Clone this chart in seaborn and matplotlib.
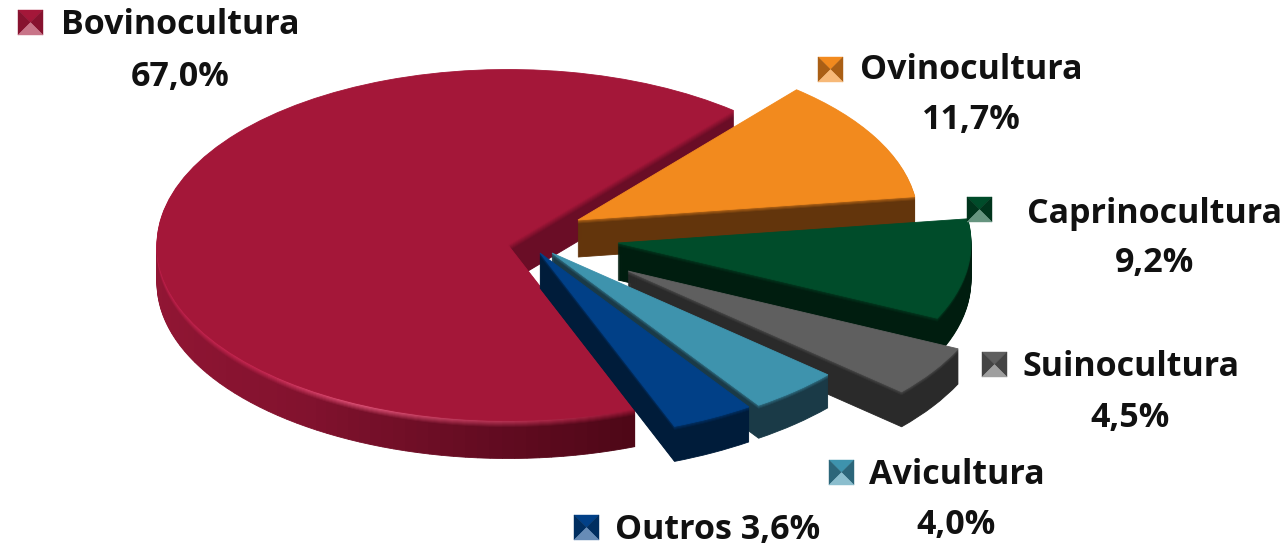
import matplotlib
matplotlib.use("Agg")
import matplotlib.pyplot as plt
from matplotlib.patches import Polygon
import seaborn as sns
import numpy as np

# ---- data ----
categories = ["Bovinocultura", "Outros", "Avicultura", "Suinocultura", "Caprinocultura", "Ovinocultura"]
shares = [67.0, 3.6, 4.0, 4.5, 9.2, 11.7]
share_labels = ["67,0%", "3,6%", "4,0%", "4,5%", "9,2%", "11,7%"]

# ---- styling / layout (pixel space of the 1287x552 canvas) ----
W, H, YS = 1287, 552, 2.0
START = 50.0
top_col = dict(Bovinocultura="#A41739", Outros="#014087", Avicultura="#3E93AD",
               Suinocultura="#5F5F5F", Caprinocultura="#004C2A", Ovinocultura="#F28A1E")
side_col = dict(Bovinocultura="#6A0D26", Outros="#001C3A", Avicultura="#1A3A47",
                Suinocultura="#2A2A2A", Caprinocultura="#001D0F", Ovinocultura="#63350C")
geom = dict(Bovinocultura=((508, 245), 351, 38), Ovinocultura=((578, 220), 340, 37),
            Caprinocultura=((618, 243), 353, 37), Suinocultura=((628, 271), 365, 35),
            Avicultura=((552, 253), 368, 33), Outros=((540, 253), 372, 35))
draw_order = ["Bovinocultura", "Ovinocultura", "Caprinocultura", "Suinocultura", "Avicultura", "Outros"]

sns.set_theme(style="white")
plt.rcParams["font.family"] = ["Open Sans", "DejaVu Sans"]

fig = plt.figure(figsize=(W / 100, H / 100), dpi=100, facecolor="white")
ax = fig.add_axes([0, 0, 1, 1])


def to_rgb(c):
    return np.array(matplotlib.colors.to_rgb(c))


def interp(theta, stops):
    xs = [s[0] for s in stops]
    arr = np.array([to_rgb(s[1]) for s in stops])
    return np.array([np.interp(theta, xs, arr[:, k]) for k in range(3)])


# Bovine wall shading around the rim
wall_stops = [(50, "#6A0D26"), (150, "#6A0D26"), (165, "#951736"), (200, "#8F1533"),
              (235, "#82122E"), (265, "#650C22"), (291, "#4E0717")]
rim_stops = [(50, "#A41739"), (150, "#A41739"), (175, "#C01D4A"), (225, "#CC2A55"),
             (245, "#E8587E"), (265, "#C43C5E"), (291, "#A41739")]


def pie_slice(idx, center, radius, colors, y_shift):
    """One slice of the shares, cut in len(colors) sectors, through ax.pie."""
    v = shares[idx]
    n = len(colors)
    pieces = [v / n] * n + [100 - v]
    start = START + 3.6 * sum(shares[:idx])
    wedges, _ = ax.pie(pieces, colors=list(colors) + ["white"], startangle=start,
                       center=(center[0], (H - center[1] - y_shift) * YS),
                       radius=radius, normalize=True)
    wedges[-1].remove()
    for w in wedges[:-1]:
        w.set_edgecolor(w.get_facecolor())
        w.set_linewidth(0.6)


for name in draw_order:
    idx = categories.index(name)
    center, radius, depth = geom[name]
    v = shares[idx]
    start = START + 3.6 * sum(shares[:idx])
    top, side = to_rgb(top_col[name]), to_rgb(side_col[name])
    for d in range(depth, 0, -1):
        if name == "Bovinocultura":
            n = 120
            thetas = start + (np.arange(n) + 0.5) * 3.6 * v / n
            wall = [interp(t, wall_stops) for t in thetas]
            rim = [interp(t, rim_stops) for t in thetas]
            k = np.clip((7 - d) / 7, 0, 1)
            cols = [tuple((1 - k) * a + k * b) for a, b in zip(wall, rim)]
        else:
            k = np.clip((4 - d) / 4, 0, 1) * 0.6
            cols = [tuple((1 - k) * side + k * top)]
        pie_slice(idx, center, radius, cols, d)
    pie_slice(idx, center, radius, [top_col[name]], 0)

ax.set_aspect("auto")
ax.set_xlim(0, W)
ax.set_ylim(0, H * YS)
ax.axis("off")

# ---- overlay in pixel coordinates: text and swatches ----
ov = fig.add_axes([0, 0, 1, 1], zorder=5)
ov.set_xlim(0, W)
ov.set_ylim(H, 0)
ov.axis("off")
ov.patch.set_alpha(0)

swatches = dict(Bovinocultura=(18, 10), Ovinocultura=(818, 57), Caprinocultura=(967, 197),
                Suinocultura=(982, 352), Avicultura=(829, 460), Outros=(574, 515))
SW = 25
for name, (x, y) in swatches.items():
    t, s = top_col[name], side_col[name]
    light = sns.blend_palette([t, "#FFFFFF"], 6)[2]
    mid = sns.blend_palette([t, s], 3)[1]
    cx, cy = x + SW / 2, y + SW / 2
    c0, c1, c2, c3 = (x, y), (x + SW, y), (x + SW, y + SW), (x, y + SW)
    ov.add_patch(Polygon([c0, c1, (cx, cy)], fc=t, ec=t, lw=0.3))
    ov.add_patch(Polygon([c1, c2, (cx, cy)], fc=mid, ec=mid, lw=0.3))
    ov.add_patch(Polygon([c3, c0, (cx, cy)], fc=mid, ec=mid, lw=0.3))
    ov.add_patch(Polygon([c2, c3, (cx, cy)], fc=light, ec=light, lw=0.3))

FS = 24.5
txt = dict(fontsize=FS, fontweight="bold", color="#111111", va="center")
name_pos = dict(Bovinocultura=(61, 25), Ovinocultura=(860, 70), Caprinocultura=(1027, 214),
                Suinocultura=(1022, 367), Avicultura=(869, 475))
pct_pos = dict(Bovinocultura=(180, 77), Ovinocultura=(971, 120), Caprinocultura=(1154, 263),
               Suinocultura=(1130, 418), Avicultura=(956, 525))
for name, (x, y) in name_pos.items():
    ov.text(x, y, name, ha="left", **txt)
for name, (x, y) in pct_pos.items():
    ov.text(x, y, share_labels[categories.index(name)], ha="center", **txt)
ov.text(615, 530, "Outros " + share_labels[categories.index("Outros")], ha="left", **txt)

fig.savefig("out.png", dpi=100, facecolor="white")
